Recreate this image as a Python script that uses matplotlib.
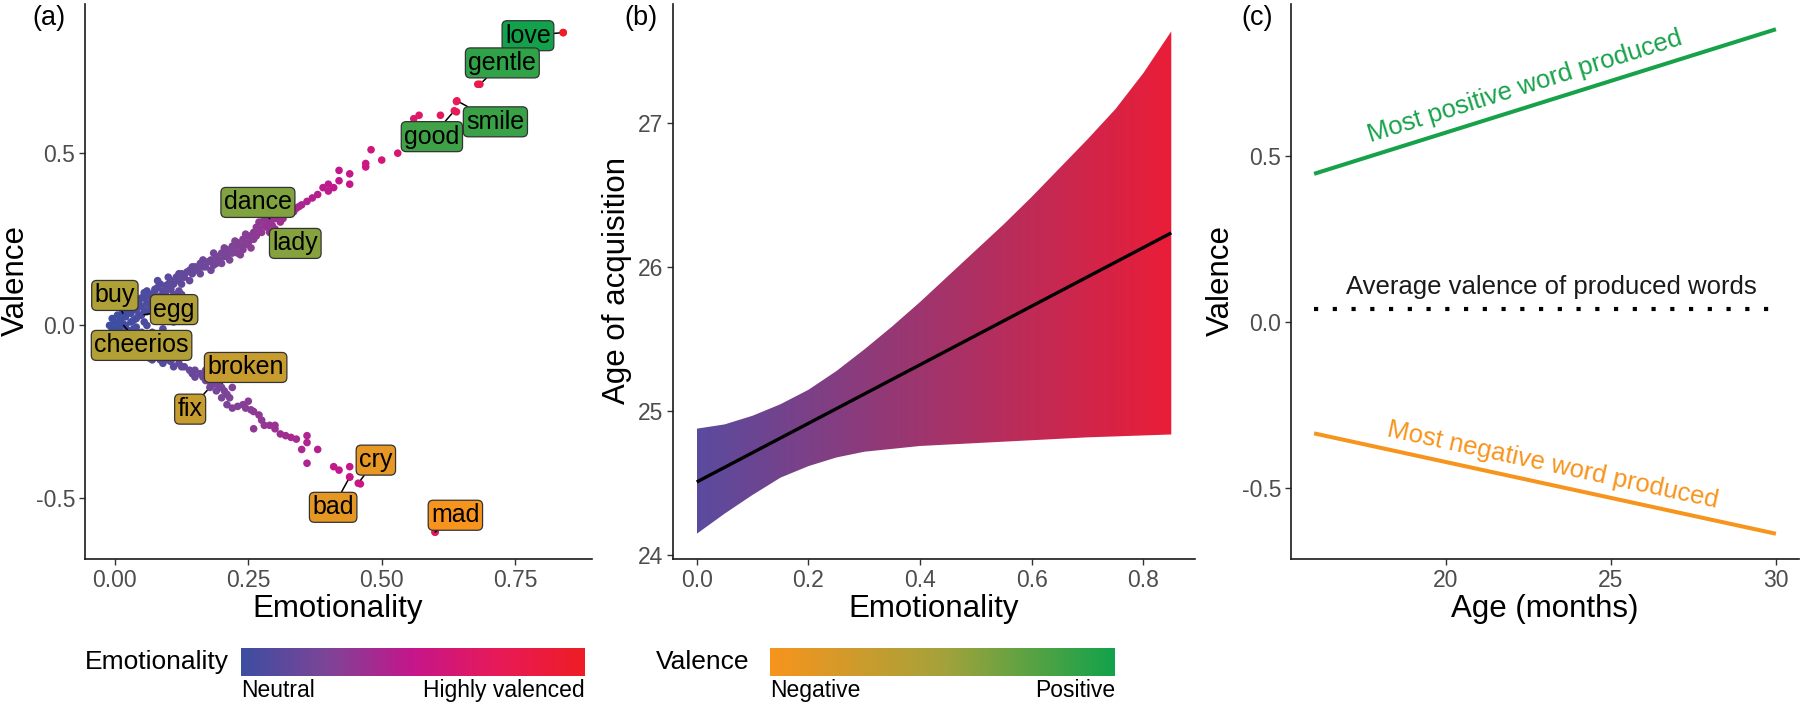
"""Three-panel figure: emotionality vs valence, age of acquisition, valence by age."""

import math

import numpy as np
import matplotlib
matplotlib.use("Agg")
import matplotlib.pyplot as plt
from matplotlib.colors import LinearSegmentedColormap, Normalize
from matplotlib.patches import Polygon
from matplotlib.ticker import FormatStrFormatter

plt.rcParams.update({
    "font.family": ["Liberation Sans", "DejaVu Sans"],
    "axes.unicode_minus": False,
})

# ---- panel (a): words, emotionality vs valence ----
# neutral core, near zero on both scales
CORE_EMOT = [
    -0.010, -0.005, 0.000, 0.000, 0.005, 0.010, 0.010, 0.015, 0.020, 0.020,
    0.025, 0.030, 0.030, 0.035, 0.040, 0.040, 0.045, 0.050, 0.050, 0.055,
    0.060, 0.060, 0.065, 0.070, 0.070, 0.075, 0.080, 0.085, 0.090, 0.095,
    0.100, 0.105, 0.110, 0.120, 0.015, 0.025, 0.040, 0.005, 0.030, 0.060,
    0.080, 0.100, 0.120, 0.090, 0.110, 0.130, 0.070, 0.050, 0.120, 0.130,
    0.015, 0.025, 0.035, 0.045, 0.055, 0.065, 0.075, 0.085, 0.095, 0.105,
    0.115, 0.125, 0.035, 0.055, 0.075, 0.095, 0.115, -0.005, 0.005, 0.020,
]
CORE_VAL = [
    0.000, 0.020, -0.015, 0.010, 0.030, -0.005, 0.015, 0.040, 0.000, 0.025,
    0.050, 0.010, 0.035, 0.060, 0.020, 0.045, 0.070, 0.030, 0.055, 0.080,
    0.040, 0.065, 0.090, 0.050, 0.075, 0.100, 0.060, 0.085, 0.070, 0.095,
    0.080, 0.105, 0.090, 0.100, -0.025, -0.015, -0.005, -0.030, -0.030, 0.000,
    0.020, 0.030, 0.050, -0.010, 0.010, 0.040, -0.020, -0.020, 0.080, 0.070,
    0.005, 0.045, 0.015, 0.030, 0.045, 0.060, 0.070, 0.050, 0.060, 0.070,
    0.080, 0.090, -0.010, 0.010, 0.030, 0.040, 0.055, -0.010, 0.000, -0.020,
]
# positively valenced words
POS_EMOT = [
    0.05, 0.06, 0.07, 0.08, 0.08, 0.09, 0.10, 0.10, 0.11, 0.12, 0.12, 0.13,
    0.14, 0.14, 0.15, 0.16, 0.16, 0.17, 0.18, 0.18, 0.19, 0.19, 0.20, 0.20,
    0.21, 0.21, 0.22, 0.22, 0.23, 0.23, 0.24, 0.24, 0.25, 0.25, 0.26, 0.26,
    0.27, 0.27, 0.28, 0.28, 0.29, 0.29, 0.30, 0.30, 0.31, 0.31, 0.32, 0.33,
    0.34, 0.35, 0.36, 0.37, 0.38, 0.40, 0.41, 0.42, 0.42, 0.44, 0.44, 0.47,
    0.47, 0.48, 0.50, 0.53, 0.56, 0.57, 0.61, 0.64, 0.64, 0.68, 0.84,
    0.055, 0.065, 0.075, 0.085, 0.095, 0.105, 0.115, 0.125, 0.135, 0.145,
    0.155, 0.165, 0.175, 0.185, 0.195, 0.205, 0.215, 0.225, 0.235, 0.245,
    0.255, 0.265, 0.275, 0.285, 0.295, 0.305, 0.315, 0.325, 0.335, 0.345,
    0.205, 0.225, 0.245, 0.265, 0.185, 0.165, 0.145, 0.125, 0.105, 0.215,
    0.235, 0.255, 0.390, 0.400,
]
POS_VAL = [
    0.08, 0.10, 0.09, 0.11, 0.13, 0.10, 0.12, 0.14, 0.12, 0.13, 0.15, 0.14,
    0.16, 0.13, 0.17, 0.15, 0.18, 0.17, 0.19, 0.16, 0.20, 0.18, 0.21, 0.18,
    0.22, 0.20, 0.23, 0.21, 0.24, 0.21, 0.25, 0.22, 0.26, 0.24, 0.27, 0.25,
    0.28, 0.30, 0.29, 0.31, 0.27, 0.30, 0.31, 0.33, 0.30, 0.32, 0.33, 0.34,
    0.34, 0.35, 0.36, 0.37, 0.38, 0.41, 0.40, 0.42, 0.45, 0.41, 0.44, 0.46,
    0.47, 0.51, 0.48, 0.50, 0.60, 0.61, 0.61, 0.62, 0.65, 0.70, 0.85,
    0.095, 0.085, 0.105, 0.120, 0.115, 0.130, 0.140, 0.120, 0.155, 0.150,
    0.160, 0.170, 0.185, 0.175, 0.190, 0.200, 0.215, 0.225, 0.230, 0.235,
    0.250, 0.260, 0.270, 0.285, 0.290, 0.320, 0.310, 0.335, 0.330, 0.345,
    0.225, 0.245, 0.265, 0.285, 0.210, 0.190, 0.170, 0.150, 0.115, 0.190,
    0.205, 0.225, 0.400, 0.390,
]
# negatively valenced words
NEG_EMOT = [
    0.06, 0.07, 0.08, 0.09, 0.10, 0.11, 0.12, 0.13, 0.14, 0.15, 0.15, 0.16,
    0.17, 0.17, 0.18, 0.19, 0.19, 0.20, 0.20, 0.21, 0.21, 0.22, 0.22, 0.24,
    0.25, 0.26, 0.27, 0.26, 0.28, 0.30, 0.30, 0.32, 0.34, 0.36, 0.35, 0.36,
    0.38, 0.36, 0.41, 0.42, 0.44, 0.44, 0.46, 0.60,
    0.065, 0.085, 0.105, 0.125, 0.145, 0.165, 0.185, 0.205, 0.215, 0.230,
    0.245, 0.255, 0.275, 0.290, 0.310, 0.330,
]
NEG_VAL = [
    -0.09, -0.10, -0.09, -0.11, -0.10, -0.12, -0.11, -0.12, -0.13, -0.13, -0.15, -0.14,
    -0.16, -0.13, -0.17, -0.16, -0.19, -0.18, -0.21, -0.20, -0.23, -0.18, -0.24, -0.23,
    -0.22, -0.25, -0.26, -0.30, -0.29, -0.29, -0.30, -0.32, -0.33, -0.32, -0.36, -0.34,
    -0.36, -0.40, -0.41, -0.42, -0.41, -0.44, -0.46, -0.60,
    -0.095, -0.100, -0.105, -0.120, -0.140, -0.150, -0.170, -0.190, -0.210, -0.235,
    -0.240, -0.245, -0.275, -0.290, -0.315, -0.325,
]

WORDS = ["love", "gentle", "smile", "good", "dance", "lady", "buy", "egg",
         "cheerios", "broken", "fix", "cry", "bad", "mad"]
WORD_EMOTIONALITY = [0.840, 0.684, 0.641, 0.636, 0.290, 0.300, 0.015, 0.047,
                     0.011, 0.195, 0.178, 0.456, 0.440, 0.600]
WORD_VALENCE = [0.850, 0.700, 0.652, 0.623, 0.310, 0.280, 0.035, 0.029,
                0.009, -0.174, -0.180, -0.458, -0.440, -0.600]

# where ggrepel pushed each label (data coordinates of the box centre)
LABEL_POS = {
    "love": (0.774, 0.841), "gentle": (0.726, 0.762), "smile": (0.713, 0.591),
    "good": (0.594, 0.548), "dance": (0.268, 0.357), "lady": (0.338, 0.238),
    "buy": (0.000, 0.087), "egg": (0.111, 0.046), "cheerios": (0.050, -0.058),
    "broken": (0.245, -0.122), "fix": (0.141, -0.243), "cry": (0.489, -0.391),
    "bad": (0.409, -0.528), "mad": (0.638, -0.551),
}

# ---- panel (b): age of acquisition by emotionality ----
FIT_X = [0.0, 0.85]
FIT_AOA = [24.51, 26.24]
UPPER_X = [0.0, 0.05, 0.10, 0.15, 0.20, 0.25, 0.30, 0.35, 0.40, 0.45,
           0.50, 0.55, 0.60, 0.65, 0.70, 0.75, 0.80, 0.85]
UPPER_AOA = [24.88, 24.91, 24.97, 25.05, 25.15, 25.28, 25.43, 25.59, 25.76, 25.94,
             26.12, 26.30, 26.49, 26.69, 26.89, 27.10, 27.35, 27.64]
LOWER_X = [0.0, 0.05, 0.10, 0.15, 0.20, 0.25, 0.30, 0.35, 0.40, 0.50,
           0.60, 0.70, 0.85]
LOWER_AOA = [24.15, 24.29, 24.42, 24.54, 24.62, 24.68, 24.72, 24.74, 24.76, 24.78,
             24.80, 24.82, 24.84]

# ---- panel (c): valence extremes by age ----
AGE = [16, 30]
MOST_POSITIVE = [0.446, 0.881]
MOST_NEGATIVE = [-0.335, -0.637]
AVERAGE_VALENCE = [0.04, 0.04]

GREEN = "#17A24A"
ORANGE = "#F7941D"
EMOT_CMAP = LinearSegmentedColormap.from_list(
    "emot", ["#3D4EA2", "#7D4597", "#C5168B", "#E81A58", "#EE1D25"])
VAL_CMAP = LinearSegmentedColormap.from_list(
    "val", [ORANGE, "#A5A23B", "#12A24B"])
RIBBON_CMAP = LinearSegmentedColormap.from_list("ribbon", ["#5A4B9F", "#EA1D38"])
EMOT_NORM = Normalize(0, 0.85)
VAL_NORM = Normalize(-0.6, 0.85)

W, H = 1800, 704
TICK_SIZE = 16.5
TITLE_SIZE = 22.5

fig = plt.figure(figsize=(W / 100, H / 100), dpi=100)


def px_axes(x0, y0, x1, y1):
    return fig.add_axes([x0 / W, 1 - y1 / H, (x1 - x0) / W, (y1 - y0) / H])


def px_text(x, y, s, **kw):
    return fig.text(x / W, 1 - y / H, s, **kw)


def style(ax):
    for side in ("top", "right"):
        ax.spines[side].set_visible(False)
    for side in ("left", "bottom"):
        ax.spines[side].set_linewidth(1.2)
        ax.spines[side].set_color("#1A1A1A")
    ax.tick_params(length=4, width=1.0, color="#333333", labelsize=TICK_SIZE,
                   labelcolor="#4D4D4D", pad=3)


# panel (a)
ax = px_axes(85, 4, 592, 559)
style(ax)
for xs, ys in ((CORE_EMOT, CORE_VAL), (POS_EMOT, POS_VAL), (NEG_EMOT, NEG_VAL),
               (WORD_EMOTIONALITY, WORD_VALENCE)):
    ax.scatter(xs, ys, c=xs, cmap=EMOT_CMAP, norm=EMOT_NORM,
               s=30, linewidths=0, zorder=2)
for word, ex, va in zip(WORDS, WORD_EMOTIONALITY, WORD_VALENCE):
    ax.annotate(word, xy=(ex, va), xytext=LABEL_POS[word], ha="center", va="center",
                fontsize=18, color="black", zorder=4,
                bbox=dict(boxstyle="round,pad=0.12,rounding_size=0.2",
                          fc=VAL_CMAP(VAL_NORM(va)), ec="#333333", lw=0.9),
                arrowprops=dict(arrowstyle="-", color="black", lw=1.1,
                                shrinkA=0, shrinkB=3))
ax.set_xlim(-0.056, 0.894)
ax.set_ylim(-0.678, 0.933)
ax.set_xticks([0, 0.25, 0.5, 0.75])
ax.set_yticks([-0.5, 0, 0.5])
ax.xaxis.set_major_formatter(FormatStrFormatter("%.2f"))
ax.yaxis.set_major_formatter(FormatStrFormatter("%.1f"))

# panel (b)
ax = px_axes(673, 4, 1195, 559)
style(ax)
verts = list(zip(UPPER_X, UPPER_AOA)) + list(zip(LOWER_X, LOWER_AOA))[::-1]
band = Polygon(verts, closed=True, fc="none", ec="none")
ax.add_patch(band)
img = ax.imshow(np.linspace(0, 1, 256).reshape(1, -1), cmap=RIBBON_CMAP,
                extent=[0, 0.85, min(LOWER_AOA), max(UPPER_AOA)],
                aspect="auto", origin="lower", interpolation="bilinear", zorder=1)
img.set_clip_path(band)
ax.plot(FIT_X, FIT_AOA, color="black", lw=2.4, zorder=3, solid_capstyle="butt")
ax.set_xlim(-0.0425, 0.8925)
ax.set_ylim(23.975, 27.83)
ax.set_xticks([0, 0.2, 0.4, 0.6, 0.8])
ax.set_yticks([24, 25, 26, 27])
ax.xaxis.set_major_formatter(FormatStrFormatter("%.1f"))

# panel (c)
ax = px_axes(1291, 4, 1799, 559)
style(ax)
ax.plot(AGE, MOST_POSITIVE, color=GREEN, lw=2.9, solid_capstyle="butt")
ax.plot(AGE, MOST_NEGATIVE, color=ORANGE, lw=2.9, solid_capstyle="butt")
ax.plot(AGE, AVERAGE_VALENCE, color="black", lw=3, linestyle=(0, (1, 3.5)))
ax.set_xlim(15.3, 30.7)
ax.set_ylim(-0.713, 0.957)
ax.set_xticks([20, 25, 30])
ax.set_yticks([-0.5, 0, 0.5])
ax.yaxis.set_major_formatter(FormatStrFormatter("%.1f"))


def line_angle(ax, xs, ys):
    (x0, y0), (x1, y1) = ax.transData.transform(list(zip(xs, ys)))
    return math.degrees(math.atan2(y1 - y0, x1 - x0))


ax.text(22.4, 0.71, "Most positive word produced", color=GREEN, fontsize=18.5,
        ha="center", va="center", rotation=line_angle(ax, AGE, MOST_POSITIVE),
        rotation_mode="anchor")
ax.text(23.25, -0.43, "Most negative word produced", color=ORANGE, fontsize=18.5,
        ha="center", va="center", rotation=line_angle(ax, AGE, MOST_NEGATIVE),
        rotation_mode="anchor")
ax.text(23.2, 0.105, "Average valence of produced words", color="#1A1A1A",
        fontsize=18.5, ha="center", va="center")

# axis titles and panel letters
for x, s in ((338, "Emotionality"), (934, "Emotionality"), (1545, "Age (months)")):
    px_text(x, 609, s, fontsize=TITLE_SIZE, ha="center", va="center")
for x, s in ((16, "Valence"), (617, "Age of acquisition"), (1221, "Valence")):
    px_text(x, 281, s, fontsize=TITLE_SIZE, ha="center", va="center", rotation=90)
for x, s in ((49, "(a)"), (641, "(b)"), (1257, "(c)")):
    px_text(x, 18, s, fontsize=19.5, ha="center", va="center")

# colour-bar legends
gradient = np.linspace(0, 1, 256).reshape(1, -1)
for (x0, x1), cmap, title, lo, hi, tx in (
        ((241, 585), EMOT_CMAP, "Emotionality", "Neutral", "Highly valenced", 229),
        ((770, 1115), VAL_CMAP, "Valence", "Negative", "Positive", 749)):
    cax = px_axes(x0, 648, x1, 676)
    cax.imshow(gradient, cmap=cmap, aspect="auto", interpolation="bilinear")
    cax.set_axis_off()
    px_text(tx, 662, title, fontsize=19, ha="right", va="center")
    px_text(x0, 679, lo, fontsize=16.5, ha="left", va="top")
    px_text(x1, 679, hi, fontsize=16.5, ha="right", va="top")

fig.savefig("out.png", dpi=100)
